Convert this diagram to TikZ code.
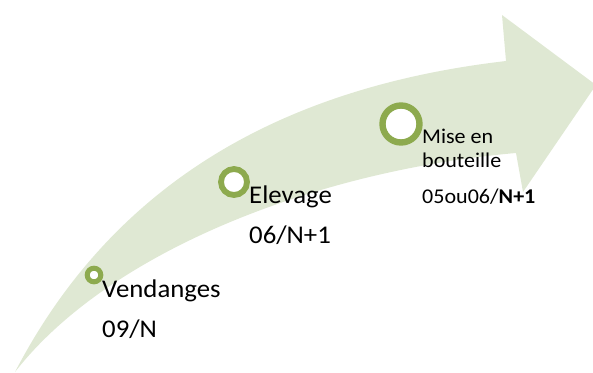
\documentclass[tikz,border=0pt]{standalone}
\usepackage{fontspec}
\setmainfont{Carlito}
\newfontfamily\bigfont[FakeStretch=1.05]{Carlito}
\newfontfamily\smallfont[FakeStretch=1.05]{Carlito}
\definecolor{bandgreen}{HTML}{DFE8D3}
\definecolor{ringgreen}{HTML}{8DAA4E}
\tikzset{
  ring/.style={circle, draw=ringgreen, fill=white, inner sep=0pt},
  biglabel/.style={anchor=base west, inner sep=0pt, font=\bigfont\fontsize{25.5}{30}\selectfont},
  smalllabel/.style={anchor=base west, inner sep=0pt, font=\smallfont\fontsize{21}{25}\selectfont}
}
\begin{document}
\begin{tikzpicture}[x=1pt, y=-1pt]
\useasboundingbox (0,0) rectangle (593,372);
% curved arrow band
\fill[bandgreen] (15,372) .. controls (120,170) and (300,85) .. (506,61)
  -- (502,15) -- (596,85) -- (523,192) -- (516,153)
  .. controls (320,170) and (110,250) .. (15,372) -- cycle;
% rings
\node[ring, line width=5pt, minimum size=13.6pt] (c1) at (94,275) {};
\node[ring, line width=5.8pt, minimum size=26pt] (c2) at (234,182) {};
\node[ring, line width=6.4pt, minimum size=37pt] (c3) at (401,124) {};
% labels
\node[biglabel] (v1) at (102,297) {Vendanges};
\node[biglabel] (v2) at (102,337) {09/N};
\node[biglabel] (e1) at (249,203) {Elevage};
\node[biglabel] (e2) at (249,243) {06/N+1};
\node[smalllabel] (m1) at (422,143) {Mise en};
\node[smalllabel] (m2) at (422,167) {bouteille};
\node[smalllabel] (m3) at (422,203) {05ou06/\textbf{N+1}};
\end{tikzpicture}
\end{document}
